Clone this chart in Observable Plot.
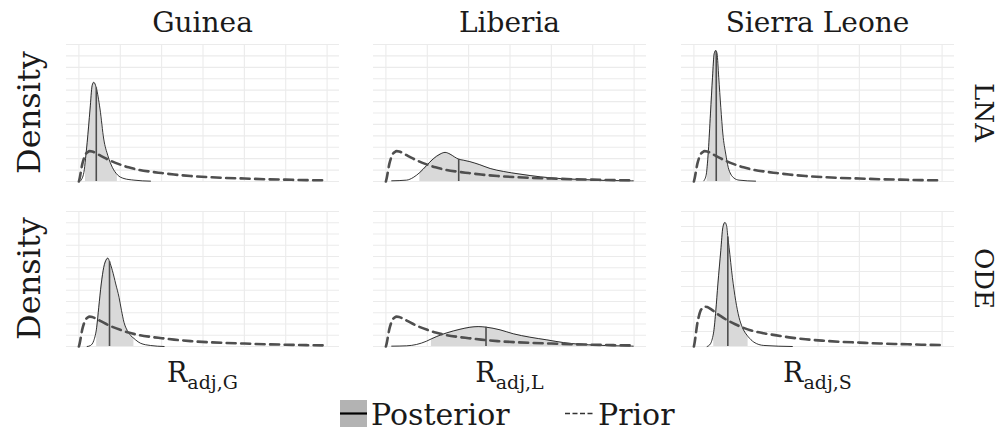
<!DOCTYPE html>
<html>
<head>
<meta charset="utf-8">
<script src="https://cdn.jsdelivr.net/npm/d3@7"></script>
<script src="https://cdn.jsdelivr.net/npm/@observablehq/plot@0.6"></script>
<style>
  body { margin: 0; background: #fff; }
  #fig { position: relative; width: 1002px; height: 432px; overflow: hidden; background: #fff;
         font-family: "DejaVu Serif", serif; }
  .panel { position: absolute; }
  #overlay { position: absolute; left: 0; top: 0; }
</style>
</head>
<body>
<div id="fig"></div>
<script>
// Facet categories
const countries = ["Guinea", "Liberia", "Sierra Leone"];
const countryCodes = ["G", "L", "S"];
const models = ["LNA", "ODE"];

// Prior density of R_adj (same prior for every panel)
const priorX = [0, 0.02, 0.05, 0.08, 0.12, 0.16, 0.21, 0.26, 0.32, 0.42, 0.53, 0.65, 0.8, 1.0, 1.2, 1.45, 1.75, 2.0, 2.3, 2.7, 3.1, 3.5, 4.0, 4.5, 5.0, 5.5, 6.0];
const priorY = [0, 0.3, 0.9, 1.5, 2.02, 2.38, 2.57, 2.66, 2.63, 2.47, 2.25, 2.02, 1.76, 1.48, 1.24, 1.02, 0.85, 0.74, 0.61, 0.48, 0.39, 0.32, 0.26, 0.2, 0.16, 0.12, 0.1];

// Posterior densities, LNA model
const guineaLnaX = [0.04, 0.12, 0.16, 0.20, 0.27, 0.32, 0.36, 0.42, 0.51, 0.60, 0.70, 0.81, 0.93, 1.09, 1.33, 1.73];
const guineaLnaY = [0.06, 0.79, 2.0, 3.42, 6.35, 8.40, 8.69, 8.2, 6.35, 3.72, 2.26, 1.23, 0.59, 0.26, 0.12, 0.03];
const liberiaLnaX = [0.14, 0.50, 0.66, 0.82, 0.98, 1.14, 1.31, 1.43, 1.55, 1.66, 1.76, 1.87, 2.03, 2.27, 2.52, 2.84, 3.24, 3.73, 4.21, 4.69, 5.34, 5.90, 5.98];
const liberiaLnaY = [0.06, 0.12, 0.35, 0.79, 1.38, 1.97, 2.4, 2.55, 2.4, 2.15, 1.95, 1.87, 1.74, 1.47, 1.14, 0.88, 0.65, 0.41, 0.26, 0.18, 0.09, 0.06, 0.06];
const sierraLnaX = [0.24, 0.30, 0.32, 0.35, 0.40, 0.45, 0.49, 0.53, 0.54, 0.56, 0.60, 0.65, 0.70, 0.77, 0.83, 0.89, 0.97, 1.09, 1.49];
const sierraLnaY = [0.06, 0.65, 1.3, 2.7, 5.92, 9.13, 11.19, 11.48, 11.4, 11.19, 9.13, 6.5, 4.16, 2.4, 1.23, 0.65, 0.3, 0.12, 0.03];

// Posterior densities, ODE model
const guineaOdeX = [0.20, 0.28, 0.36, 0.43, 0.48, 0.54, 0.60, 0.67, 0.70, 0.74, 0.81, 0.89, 0.97, 1.03, 1.09, 1.17, 1.25, 1.33, 1.37, 1.49, 1.73, 2.06];
const guineaOdeY = [0, 0.09, 0.53, 1.71, 3.48, 5.56, 7.03, 7.77, 7.86, 7.55, 6.74, 5.56, 4.37, 3.19, 2.15, 1.42, 0.98, 0.72, 0.59, 0.29, 0.09, 0];
const liberiaOdeX = [0.14, 0.50, 0.74, 0.98, 1.10, 1.23, 1.47, 1.79, 2.03, 2.23, 2.42, 2.76, 3.08, 3.48, 3.89, 4.29, 4.69, 5.10, 5.50, 5.90, 5.98];
const liberiaOdeY = [0.03, 0.06, 0.18, 0.47, 0.68, 0.89, 1.21, 1.53, 1.71, 1.77, 1.72, 1.48, 1.13, 0.83, 0.59, 0.35, 0.2, 0.12, 0.06, 0.04, 0.03];
const sierraOdeX = [0.32, 0.40, 0.47, 0.48, 0.53, 0.58, 0.65, 0.70, 0.75, 0.79, 0.82, 0.85, 0.93, 1.01, 1.09, 1.17, 1.29, 1.31, 1.45, 1.69, 2.38];
const sierraOdeY = [0, 0.18, 0.84, 1.0, 2.4, 4.17, 6.39, 7.94, 8.27, 8.05, 7.3, 6.61, 4.61, 3.06, 1.95, 1.28, 0.73, 0.66, 0.29, 0.07, 0];

// Credible interval bounds and medians (row order: LNA, ODE; column order: countries)
const lowerBound = [[0.16, 0.82, 0.32], [0.43, 1.10, 0.48]];
const medians    = [[0.42, 1.76, 0.54], [0.74, 2.42, 0.82]];
const upperBound = [[0.93, 5.90, 0.89], [1.33, 5.90, 1.31]];

// Upper limit of each panel's density axis
const densityLimits = [[12, 12, 12], [12, 12, 9]];

// Breaks of the R_adj axis
const xBreaks = [0, 1, 2, 3, 4, 5, 6];

const posteriorX = [[guineaLnaX, liberiaLnaX, sierraLnaX], [guineaOdeX, liberiaOdeX, sierraOdeX]];
const posteriorY = [[guineaLnaY, liberiaLnaY, sierraLnaY], [guineaOdeY, liberiaOdeY, sierraOdeY]];

const zip = (xs, ys) => xs.map((x, i) => ({x, y: ys[i]}));
const prior = zip(priorX, priorY);

// Layout of the facet grid
const panelLeft = [66, 373, 681];
const panelTop = [44, 211];
const panelHeight = [137, 135];
const panelWidth = 273;

const fig = document.getElementById("fig");

models.forEach((model, r) => {
  countries.forEach((country, c) => {
    const post = zip(posteriorX[r][c], posteriorY[r][c]);
    const lo = lowerBound[r][c], hi = upperBound[r][c], med = medians[r][c];
    const ymax = densityLimits[r][c];
    const xPad = (xBreaks[xBreaks.length - 1] - xBreaks[0]) * 0.05;
    const chart = Plot.plot({
      width: panelWidth,
      height: panelHeight[r],
      margin: 0,
      x: {domain: [xBreaks[0] - xPad, xBreaks[xBreaks.length - 1] + xPad], axis: null},
      y: {domain: [0, ymax], axis: null},
      style: {overflow: "visible", background: "transparent"},
      marks: [
        Plot.ruleY(d3.range(0, ymax + 1), {stroke: "#ebebeb", strokeWidth: 1.1}),
        Plot.ruleX(xBreaks, {stroke: "#ebebeb", strokeWidth: 1.1}),
        Plot.areaY(post, {x: "x", y: "y", filter: d => d.x >= lo && d.x <= hi,
                          fill: "#d9d9d9", curve: "monotone-x"}),
        Plot.lineY(post, {x: "x", y: "y", stroke: "#000", strokeWidth: 0.8, curve: "monotone-x"}),
        Plot.ruleX(post.filter(d => d.x === med), {x: "x", y1: 0, y2: "y",
                          stroke: "#4d4d4d", strokeWidth: 1.6}),
        Plot.lineY(prior, {x: "x", y: "y", stroke: "#4f4f4f", strokeWidth: 2.6,
                           strokeDasharray: "9,5.5", curve: "monotone-x"})
      ]
    });
    chart.classList.add("panel");
    chart.style.left = panelLeft[c] + "px";
    chart.style.top = panelTop[r] + "px";
    fig.appendChild(chart);
  });
});

// Strip labels, axis titles and legend
const svg = d3.select(fig).append("svg")
  .attr("id", "overlay").attr("width", 1002).attr("height", 432)
  .style("font-family", "'DejaVu Serif', serif").style("fill", "#1a1a1a");

countries.forEach((country, c) => {
  const cx = panelLeft[c] + panelWidth / 2;
  svg.append("text").attr("x", cx).attr("y", 32).attr("text-anchor", "middle")
    .attr("font-size", 28).text(country);
  const t = svg.append("text").attr("x", cx).attr("y", 382).attr("text-anchor", "middle")
    .attr("font-size", 27);
  t.append("tspan").text("R");
  t.append("tspan").attr("font-size", 19).attr("dy", 7).text("adj," + countryCodes[c]);
});

models.forEach((model, r) => {
  const cy = panelTop[r] + panelHeight[r] / 2;
  svg.append("text").attr("transform", `translate(40,${cy}) rotate(-90)`)
    .attr("text-anchor", "middle").attr("font-size", 32).text("Density");
  svg.append("text").attr("transform", `translate(975,${cy}) rotate(90)`)
    .attr("text-anchor", "middle").attr("font-size", 26).text(model);
});

// Legend
const lg = svg.append("g");
lg.append("rect").attr("x", 340).attr("y", 400).attr("width", 27).attr("height", 27).attr("fill", "#b3b3b3");
lg.append("line").attr("x1", 340).attr("x2", 367).attr("y1", 413.5).attr("y2", 413.5)
  .attr("stroke", "#000").attr("stroke-width", 2.2);
lg.append("text").attr("x", 371).attr("y", 425).attr("font-size", 30).text("Posterior");
lg.append("line").attr("x1", 565).attr("x2", 594).attr("y1", 413.5).attr("y2", 413.5)
  .attr("stroke", "#333").attr("stroke-width", 1.5).attr("stroke-dasharray", "5,2.5");
lg.append("text").attr("x", 598).attr("y", 425).attr("font-size", 30).text("Prior");
</script>
</body>
</html>
